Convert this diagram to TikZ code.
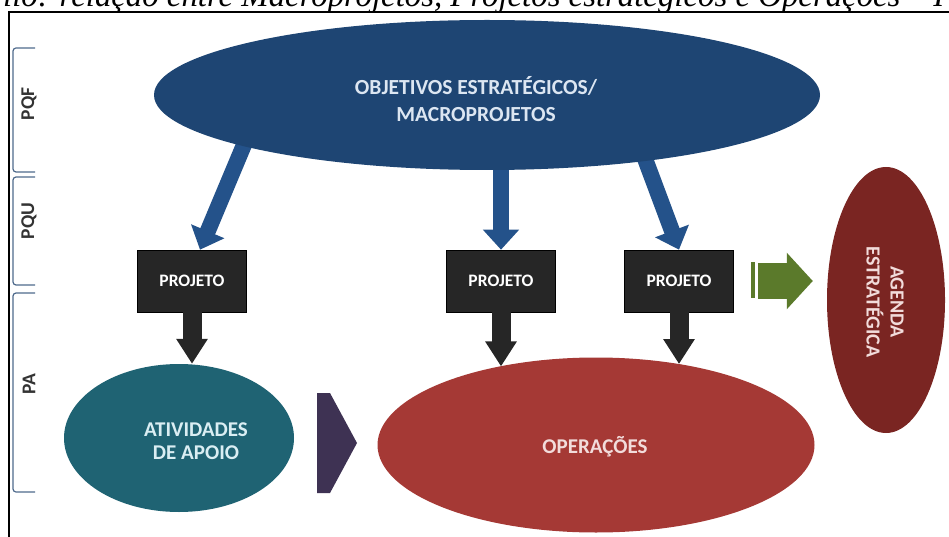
\documentclass[tikz,border=0pt]{standalone}
\usepackage{fontspec}
\usepackage{graphicx}
\setmainfont{Liberation Serif}
\newfontfamily\calfont{Carlito}
\usetikzlibrary{shapes.geometric,arrows.meta,backgrounds,calc}
\definecolor{objblue}{HTML}{1E4573}
\definecolor{arrblue}{HTML}{24528A}
\definecolor{projblk}{HTML}{262626}
\definecolor{tealc}{HTML}{1F6373}
\definecolor{purpc}{HTML}{3E3253}
\definecolor{opred}{HTML}{A53935}
\definecolor{agred}{HTML}{7A2522}
\definecolor{greenc}{HTML}{5B7A2B}
\definecolor{brkc}{HTML}{4E6A8C}
\definecolor{lblc}{HTML}{333333}
\definecolor{bluetxt}{HTML}{DCE6F2}
\definecolor{redtxt}{HTML}{F2DCDB}
\definecolor{tealtxt}{HTML}{DAEEF3}
\tikzset{
  lbl/.style={font=\calfont\bfseries\fontsize{19.5}{20}\selectfont, text=lblc, inner sep=0pt},
  brk/.style={draw=brkc, line width=1.2pt, rounded corners=3pt},
  oval/.style={ellipse, inner sep=0pt},
  projbox/.style={rectangle, fill=projblk, draw=black, line width=0.6pt, minimum width=109pt, minimum height=62pt, inner sep=0pt,
    text=white, font=\calfont\bfseries\fontsize{17.5}{20}\selectfont},
  bluearr/.style={draw=arrblue, line width=16pt, -{Triangle[width=35pt,length=20pt]}},
  blackarr/.style={draw=projblk, line width=19pt, -{Triangle[width=30pt,length=25pt]}},
  greenarr/.style={draw=greenc, line width=36pt, -{Triangle[width=55pt,length=26pt]}},
  big/.style={font=\calfont\bfseries\fontsize{21.5}{27}\selectfont, align=center, inner sep=0pt}
}
\begin{document}
\begin{tikzpicture}[x=1pt,y=-1pt]
\useasboundingbox (0,0) rectangle (949,537);
% caption, clipped
\begin{scope}
\clip (0,0) rectangle (949,12);
\node[anchor=base west, inner sep=0pt] (cap) at (3,7) {\resizebox{941pt}{!}{\itshape\fontsize{27}{30}\selectfont ilo: relação entre Macroprojetos, Projetos estratégicos e Operações – I}};
\end{scope}
% frame
\draw[line width=1.5pt] (9,537) -- (9,12) -- (949,12);
% brackets
\draw[brk] (35,48) -- (13,48) -- (13,172) -- (35,172);
\draw[brk] (35,177) -- (13,177) -- (13,285) -- (35,285);
\draw[brk] (35,293) -- (13,293) -- (13,492) -- (35,492);
\node[lbl, rotate=90] (lpqf) at (29,104) {PQF};
\node[lbl, rotate=90] (lpqu) at (29,221) {PQU};
\node[lbl, rotate=90] (lpa) at (29,384) {PA};
% main shapes
\node[oval, fill=objblue, minimum width=666pt, minimum height=150pt] (obj) at (487,95) {};
\node[big, text=bluetxt] (objt) at (476,99) {OBJETIVOS ESTRATÉGICOS/\\MACROPROJETOS};
\node[projbox] (p1) at (192,281) {PROJETO};
\node[projbox] (p2) at (501,281) {PROJETO};
\node[projbox] (p3) at (679,281) {PROJETO};
\node[oval, fill=tealc, minimum width=230pt, minimum height=148pt] (atv) at (179,438) {};
\node[big, text=tealtxt, font=\calfont\bfseries\fontsize{21}{23}\selectfont] (atvt) at (196,441) {ATIVIDADES\\DE APOIO};
\node[oval, fill=opred, minimum width=437pt, minimum height=175pt] (op) at (596,445) {};
\node[big, text=redtxt, font=\calfont\bfseries\fontsize{21}{23}\selectfont] (opt) at (595,447) {OPERAÇÕES};
\node[oval, fill=agred, minimum width=118pt, minimum height=266pt] (ag) at (886,300) {};
\node[big, text=redtxt, rotate=-90, font=\calfont\bfseries\fontsize{20}{24}\selectfont] (agt) at (885,302) {AGENDA\\ESTRATÉGICA};
% blue arrows from the objectives ellipse
\coordinate (s1) at (246,140);
\coordinate (s2) at (501,150);
\coordinate (s3) at (638,140);
\begin{scope}[on background layer]
\draw[bluearr] (s1) -- ([xshift=8pt]p1.north);
\draw[bluearr] (s2) -- (p2.north);
\draw[bluearr] (s3) -- (p3.north);
\end{scope}
% black arrows
\draw[blackarr] (p1.south) -- (p1.south |- atv.north);
\draw[blackarr] (p2.south) -- (p2.south |- op.141);
\draw[blackarr] (p3.south) -- (p3.south |- op.44);
% green arrow
\fill[greenc] (751,262) rectangle (755,298);
\draw[greenarr, shorten <=24pt, shorten >=14pt] (p3.east) -- (p3.east -| ag.west);
% purple chevron
\fill[purpc] (317,393) -- (330,393) -- (357,443) -- (330,493) -- (317,493) -- cycle;
\end{tikzpicture}
\end{document}
